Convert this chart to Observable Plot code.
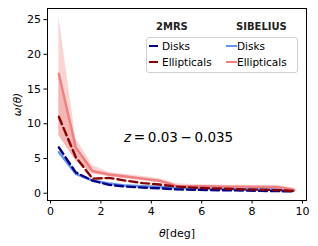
<!DOCTYPE html>
<html><head><meta charset="utf-8">
<script src="https://cdn.jsdelivr.net/npm/d3@7"></script>
<script src="https://cdn.jsdelivr.net/npm/@observablehq/plot@0.6"></script>
<style>
body{margin:0;background:#fff;font-family:"DejaVu Sans",sans-serif;}
#wrap{position:relative;width:318px;height:246px;}
.leg{position:absolute;font-size:10.5px;color:#000;line-height:12px;}
.hdr{position:absolute;font-size:10px;font-weight:bold;color:#222;line-height:12px;}
.box{position:absolute;left:146px;top:37px;width:150px;height:34px;border:1px solid #d0d0d0;border-radius:3px;background:rgba(255,255,255,0.8);}
.sw{position:absolute;width:9px;height:0;border-top:2px solid;}
</style></head><body>
<div id="wrap"></div>
<script>
const theta = [0.33,1.0,1.67,2.33,3.0,3.67,4.33,5.0,5.67,6.33,7.0,7.67,8.33,9.0,9.67];
const mrsDisks = [6.6,3.0,1.8,1.2,0.95,0.8,0.7,0.55,0.5,0.45,0.42,0.38,0.33,0.3,0.25];
const mrsEll = [11.0,5.2,2.1,2.2,1.8,1.45,1.25,0.95,0.8,0.7,0.65,0.55,0.5,0.45,0.3];
const sibDisks = [5.9,2.8,1.8,1.4,1.1,1.0,0.9,0.8,0.75,0.7,0.65,0.6,0.6,0.55,0.4];
const sibEll = [17.2,6.6,3.2,2.7,2.4,2.1,1.8,1.05,1.0,1.0,0.95,0.95,0.9,0.9,0.5];
const sibEllHi = [25.5,7.9,4.0,3.0,2.7,2.4,2.1,1.35,1.25,1.2,1.15,1.15,1.1,1.1,0.7];
const sibEllLo = [8.3,4.7,2.8,2.4,2.1,1.8,1.5,0.8,0.75,0.8,0.75,0.75,0.7,0.7,0.35];
const xTicks = [0,2,4,6,8,10];
const yTicks = [0,5,10,15,20,25];

const rows = theta.map((t,i)=>({t, md:mrsDisks[i], me:mrsEll[i], sd:sibDisks[i], se:sibEll[i], hi:sibEllHi[i], lo:sibEllLo[i]}));

const plot = Plot.plot({
  width:318, height:246,
  marginLeft:47, marginRight:12, marginTop:8, marginBottom:46,
  style:{fontFamily:"DejaVu Sans, sans-serif", fontSize:"11px", color:"#000", background:"#fff"},
  x:{domain:[-0.12,10.16], ticks:xTicks, tickSize:3.5, tickPadding:3, label:"θ[deg]", labelArrow:"none", labelAnchor:"center", labelOffset:36},
  y:{domain:[-1.05,26.6], ticks:yTicks, tickSize:3.5, tickPadding:3, label:"ω(θ)", labelArrow:"none", labelAnchor:"center", labelOffset:34},
  marks:[
    Plot.areaY(rows,{x:"t", y1:"lo", y2:"hi", fill:"#f08080", fillOpacity:0.35}),
    Plot.areaY(rows,{x:"t", y1:"lo", y2:"se", fill:"#f08080", fillOpacity:0.35}),
    Plot.line(rows,{x:"t", y:"sd", stroke:"#6495ed", strokeWidth:2.4}),
    Plot.line(rows,{x:"t", y:"se", stroke:"#f08080", strokeWidth:2.4}),
    Plot.line(rows,{x:"t", y:"md", stroke:"#00008b", strokeWidth:2.4, strokeDasharray:"8,4"}),
    Plot.line(rows,{x:"t", y:"me", stroke:"#8b0000", strokeWidth:2.4, strokeDasharray:"8,4"}),
    Plot.frame({stroke:"#000", strokeWidth:1})
  ]
});
const wrap = document.getElementById("wrap");
wrap.appendChild(plot);
// italic math in axis labels
const yl = plot.querySelector('g[aria-label="y-axis label"] text');
if (yl) { yl.style.fontStyle = "italic"; yl.style.fontSize = "10.5px"; }
const xl = plot.querySelector('g[aria-label="x-axis label"] text');
if (xl) { xl.textContent = ""; const a = document.createElementNS("http://www.w3.org/2000/svg","tspan"); a.setAttribute("font-style","italic"); a.textContent="θ"; const b = document.createElementNS("http://www.w3.org/2000/svg","tspan"); b.textContent="[deg]"; xl.append(a,b); }
wrap.insertAdjacentHTML("beforeend", `
<div class="hdr" style="left:156px;top:21px">2MRS</div>
<div class="hdr" style="left:236px;top:21px">SIBELIUS</div>
<div class="box"></div>
<div class="sw" style="left:149px;top:45px;border-color:#00008b"></div>
<div class="leg" style="left:162px;top:40px">Disks</div>
<div class="sw" style="left:149px;top:61px;border-color:#8b0000"></div>
<div class="leg" style="left:162px;top:56px">Ellipticals</div>
<div class="sw" style="left:226px;top:45px;border-color:#6495ed;width:11px"></div>
<div class="leg" style="left:237px;top:40px">Disks</div>
<div class="sw" style="left:226px;top:61px;border-color:#f08080;width:11px"></div>
<div class="leg" style="left:237px;top:56px">Ellipticals</div>
<div class="leg" style="left:124px;top:130px;font-size:13.5px;line-height:15px"><i>z</i>&thinsp;=&thinsp;0.03&thinsp;−&thinsp;0.035</div>
`);
</script>
</body></html>
